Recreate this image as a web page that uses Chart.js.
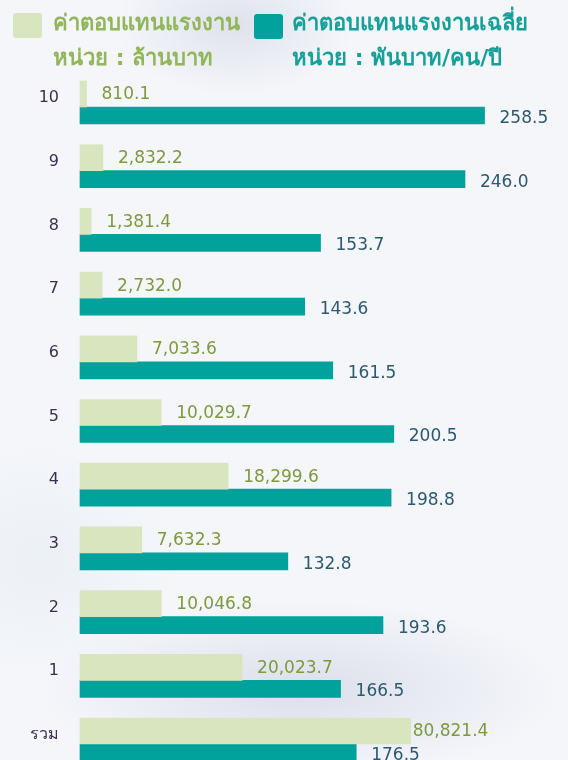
<!DOCTYPE html>
<html>
<head>
<meta charset="utf-8">
<script src="https://cdn.jsdelivr.net/npm/chart.js@4.4.1/dist/chart.umd.min.js"></script>
<style>
  html, body { margin: 0; padding: 0; }
  body {
    width: 568px; height: 760px; overflow: hidden; position: relative;
    background-color: #f4f6fa;
    background-image:
      radial-gradient(ellipse 120px 70px at 235px 25px, rgba(205,210,225,0.55), rgba(205,210,225,0) 100%),
      radial-gradient(ellipse 260px 90px at 300px 690px, rgba(200,205,222,0.55), rgba(200,205,222,0) 100%),
      radial-gradient(ellipse 140px 120px at 40px 560px, rgba(232,238,242,0.7), rgba(232,238,242,0) 100%);
  }
  #wrap { position: absolute; left: 0; top: 0; width: 568px; height: 760px; }
  canvas { position: absolute; left: 0; top: 0; }
  .leg { position: absolute; font-family: "DejaVu Sans", "Noto Sans", sans-serif; font-weight: 600; font-size: 22px; line-height: 35px; white-space: nowrap; }
  .box { position: absolute; width: 29px; height: 25px; border-radius: 3px; }
</style>
</head>
<body>
<div id="wrap">
  <canvas id="c" width="568" height="760"></canvas>
  <div class="box" id="box1" style="left:13px; top:13px; background:#d9e5be;"></div>
  <div class="leg" id="leg1" style="left:53px; top:5px; color:#92b65a;">ค่าตอบแทนแรงงาน<br>หน่วย : ล้านบาท</div>
  <div class="box" id="box2" style="left:254px; top:14px; background:#00a29b;"></div>
  <div class="leg" id="leg2" style="left:292px; top:5px; color:#17a09a;">ค่าตอบแทนแรงงานเฉลี่ย<br>หน่วย : พันบาท/คน/ปี</div>
</div>
<script>
// ---- data ----
const categories = ['10', '9', '8', '7', '6', '5', '4', '3', '2', '1', 'รวม'];
// ค่าตอบแทนแรงงาน (ล้านบาท)
const compensationMillion = [810.1, 2832.2, 1381.4, 2732.0, 7033.6, 10029.7, 18299.6, 7632.3, 10046.8, 20023.7, 80821.4];
// ค่าตอบแทนแรงงานเฉลี่ย (พันบาท/คน/ปี)
const avgCompensation = [258.5, 246.0, 153.7, 143.6, 161.5, 200.5, 198.8, 132.8, 193.6, 166.5, 176.5];
// the total bar is drawn shortened (broken bar) in the reference
const TOTAL_BAR_CAP = 40850;

const greenPlot = compensationMillion.map(v => Math.min(v, TOTAL_BAR_CAP));

const fmt = v => v.toLocaleString('en-US', { minimumFractionDigits: 1, maximumFractionDigits: 1 });

const valueLabels = {
  id: 'valueLabels',
  afterDatasetsDraw(chart) {
    const ctx = chart.ctx;
    ctx.save();
    ctx.font = '17px "DejaVu Sans", sans-serif';
    ctx.textBaseline = 'middle';
    ctx.textAlign = 'left';
    chart.data.datasets.forEach((ds, di) => {
      const meta = chart.getDatasetMeta(di);
      meta.data.forEach((el, i) => {
        const real = ds.realValues[i];
        const capped = real > ds.data[i];
        ctx.fillStyle = ds.labelColor;
        const off = capped ? 2 : 15;
        ctx.fillText(fmt(real), el.x + off, el.y + ds.labelDy);
      });
    });
    ctx.restore();
  }
};

new Chart(document.getElementById('c'), {
  type: 'bar',
  data: {
    labels: categories,
    datasets: [
      {
        label: 'ค่าตอบแทนแรงงาน หน่วย : ล้านบาท',
        data: greenPlot,
        realValues: compensationMillion,
        xAxisID: 'x2',
        backgroundColor: '#d9e5be',
        barThickness: 26,
        clip: false,
        labelColor: '#7d9a3f',
        labelDy: 1
      },
      {
        label: 'ค่าตอบแทนแรงงานเฉลี่ย หน่วย : พันบาท/คน/ปี',
        data: avgCompensation,
        realValues: avgCompensation,
        xAxisID: 'x',
        backgroundColor: '#00a29b',
        barThickness: 17,
        clip: false,
        labelColor: '#2b5a70',
        labelDy: 3
      }
    ]
  },
  options: {
    indexAxis: 'y',
    responsive: false,
    animation: false,
    layout: { padding: { top: 107, bottom: 16, left: 0, right: 18.5 } },
    plugins: { legend: { display: false }, tooltip: { enabled: false } },
    scales: {
      y: {
        type: 'category',
        offset: false,
        grid: { display: false, drawTicks: false },
        border: { display: false },
        ticks: {
          color: '#3a3050',
          font: { family: '"DejaVu Sans", sans-serif', size: 16 },
          padding: 21,
          labelOffset: -9
        },
        afterFit(scale) {
          scale.width = 80;
          scale.paddingTop = 0;
          scale.paddingBottom = 0;
        }
      },
      x: { type: 'linear', display: false, min: 0, max: 300 },
      x2: { type: 'linear', display: false, min: 0, max: 58000 }
    }
  },
  plugins: [valueLabels]
});
</script>
</body>
</html>
